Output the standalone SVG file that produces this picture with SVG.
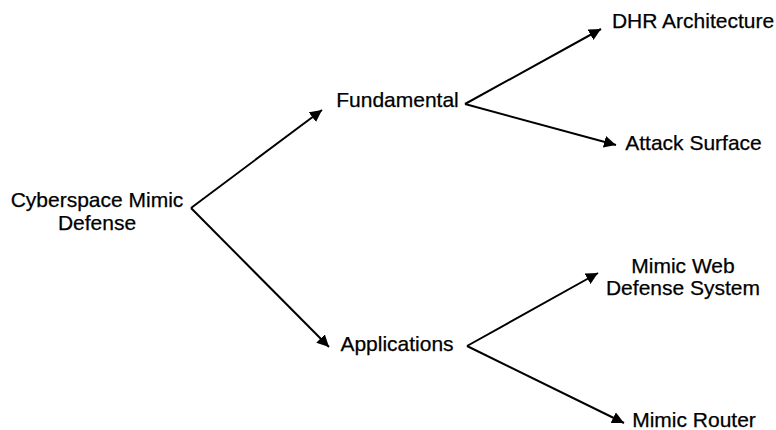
<svg xmlns="http://www.w3.org/2000/svg" width="776" height="430" viewBox="0 0 776 430">
<style>
text{font-family:"Liberation Sans",Arial,sans-serif;font-size:21px;fill:#000;text-anchor:middle;stroke:#000;stroke-width:0.25px}
.c line{stroke:#000;stroke-width:2;marker-end:url(#ah)}
</style>
<defs>
<marker id="ah" viewBox="0 0 10 10" refX="10" refY="5" markerWidth="6" markerHeight="6" markerUnits="strokeWidth" orient="auto">
<path d="M0,0 L10,5 L0,10 z" fill="#000"/>
</marker>
</defs>
<rect width="776" height="430" fill="#fff"/>
<g class="c" id="connectors">
<line x1="191" y1="208" x2="322" y2="110"/>
<line x1="191" y1="208" x2="329" y2="347"/>
<line x1="465" y1="104" x2="601" y2="29"/>
<line x1="465" y1="104" x2="616" y2="145"/>
<line x1="467" y1="346" x2="598" y2="273"/>
<line x1="467" y1="346" x2="624" y2="423"/>
</g>
<g id="root"><text x="97" y="207">Cyberspace Mimic</text><text x="97" y="230">Defense</text></g>
<g id="fundamental"><text x="397.5" y="107">Fundamental</text></g>
<g id="applications"><text x="397" y="351">Applications</text></g>
<g id="dhr"><text x="693" y="28">DHR Architecture</text></g>
<g id="attack"><text x="693.5" y="150">Attack Surface</text></g>
<g id="mwds"><text x="683" y="273">Mimic Web</text><text x="683" y="295">Defense System</text></g>
<g id="router"><text x="694" y="427">Mimic Router</text></g>
</svg>
